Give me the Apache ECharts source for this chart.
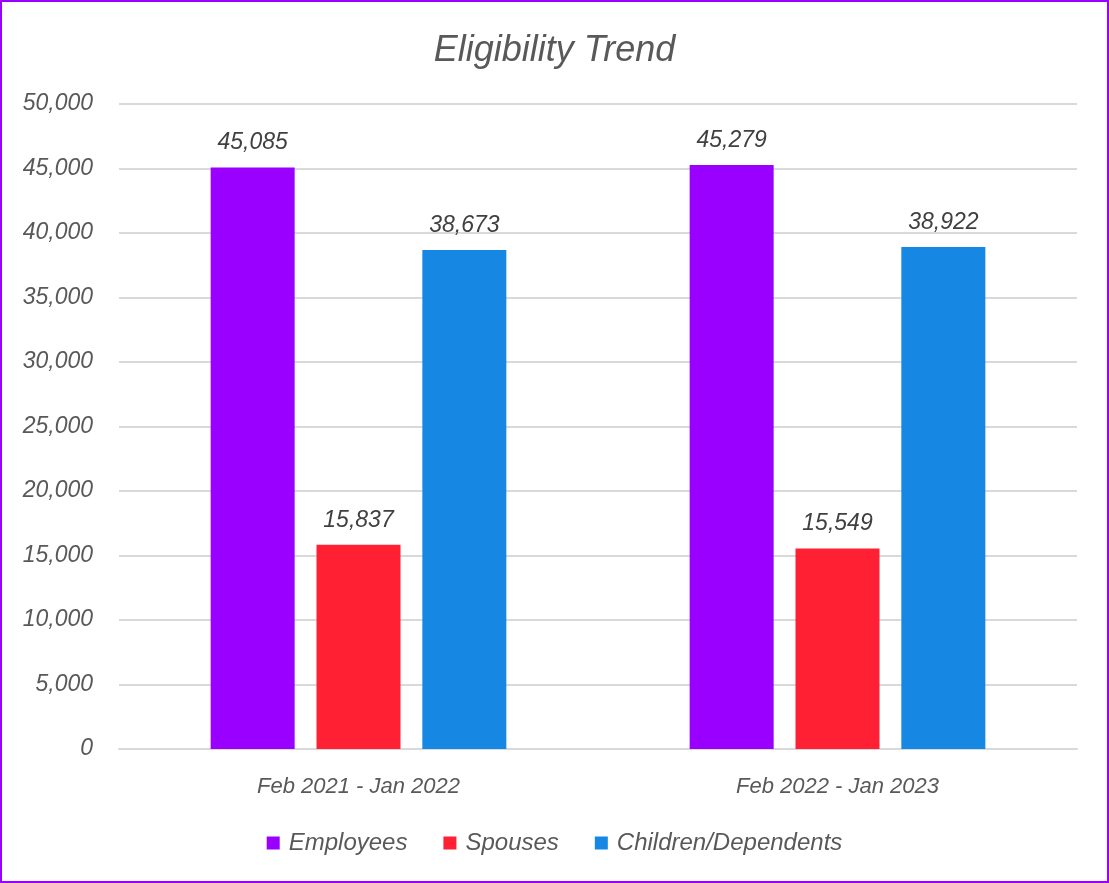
<!DOCTYPE html>
<html>
<head>
<meta charset="utf-8">
<script src="https://cdn.jsdelivr.net/npm/echarts@6/dist/echarts.min.js"></script>
<style>
  html, body { margin: 0; padding: 0; background: #fff; }
  #main {
    position: absolute; left: 0; top: 0;
    width: 1105px; height: 879px;
    border: 2px solid #9900ff;
  }
</style>
</head>
<body>
<div id="main"></div>
<script>
const categories = ['Feb 2021 - Jan 2022', 'Feb 2022 - Jan 2023'];
const employees = [45085, 45279];
const spouses = [15837, 15549];
const children = [38673, 38922];
const seriesNames = ['Employees', 'Spouses', 'Children/Dependents'];

const chart = echarts.init(document.getElementById('main'));

const font = '"Liberation Sans", Arial, sans-serif';
const labelStyle = {
  show: true,
  position: 'top',
  distance: 13,
  fontFamily: font,
  fontStyle: 'italic',
  fontSize: 23,
  color: '#404040',
  formatter: p => p.value.toLocaleString('en-US')
};

function bar(name, data, color) {
  return {
    name: name,
    type: 'bar',
    data: data,
    barWidth: 84,
    barGap: '26%',
    itemStyle: { color: color },
    label: labelStyle
  };
}

chart.setOption({
  animation: false,
  title: {
    text: 'Eligibility Trend',
    left: 'center',
    top: 26,
    textStyle: {
      fontFamily: font,
      fontStyle: 'italic',
      fontWeight: 'normal',
      fontSize: 36,
      color: '#595959'
    }
  },
  legend: {
    bottom: 21,
    left: 'center',
    itemWidth: 13,
    itemHeight: 13,
    itemGap: 36,
    icon: 'rect',
    textStyle: {
      fontFamily: font,
      fontStyle: 'italic',
      fontSize: 24,
      color: '#595959',
      padding: [0, 0, 0, 4]
    },
    data: seriesNames
  },
  grid: {
    left: 117,
    right: 30,
    top: 102,
    bottom: 132
  },
  xAxis: {
    type: 'category',
    data: categories,
    axisLine: { lineStyle: { color: '#d9d9d9', width: 2 } },
    axisTick: { show: false },
    axisLabel: {
      margin: 27,
      fontFamily: font,
      fontStyle: 'italic',
      fontSize: 22,
      color: '#595959'
    }
  },
  yAxis: {
    type: 'value',
    min: 0,
    max: 50000,
    interval: 5000,
    axisLine: { show: false },
    axisTick: { show: false },
    splitLine: { lineStyle: { color: '#d9d9d9', width: 2 } },
    axisLabel: {
      margin: 26,
      padding: [6, 0, 0, 0],
      fontFamily: font,
      fontStyle: 'italic',
      fontSize: 23,
      color: '#595959',
      formatter: v => v.toLocaleString('en-US')
    }
  },
  series: [
    bar(seriesNames[0], employees, '#9900ff'),
    bar(seriesNames[1], spouses, '#ff2034'),
    bar(seriesNames[2], children, '#1688e3')
  ]
});
</script>
</body>
</html>
